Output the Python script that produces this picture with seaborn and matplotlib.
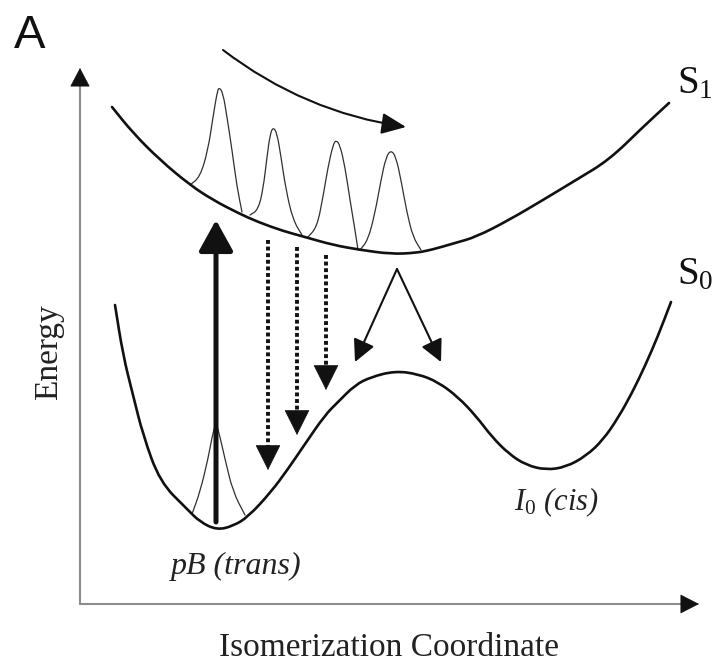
import numpy as np
import pandas as pd
import matplotlib
matplotlib.use('Agg')
import matplotlib.pyplot as plt
from matplotlib.path import Path
from matplotlib.patches import PathPatch
import seaborn as sns

sns.set_style('white')
plt.rcParams['font.family'] = ['Liberation Serif', 'DejaVu Serif']
plt.rcParams['mathtext.fontset'] = 'custom'
plt.rcParams['mathtext.rm'] = 'Liberation Serif'
plt.rcParams['mathtext.it'] = 'Liberation Serif:italic'

# potential curves (pixel units, y downwards)
s1_x = [112, 133, 160, 190, 213, 238, 258, 283, 305, 333, 361, 391, 415, 431, 455, 476, 509, 543, 576, 609, 643, 669]
s1_y = [107, 133, 160, 185, 200, 213, 222, 231, 237, 245, 250, 254, 253, 250, 243, 237, 220, 200, 180, 160, 127, 103]

s0_x = [115, 123, 133, 143, 160, 187, 200, 217, 233, 248, 271, 288, 305, 325, 338, 355, 371, 395, 418, 438,
        458, 476, 492, 509, 526, 546, 566, 586, 603, 618, 632, 645, 658, 671]
s0_y = [305, 355, 395, 435, 482, 509, 522, 530, 526, 517, 492, 469, 444, 415, 402, 385, 377, 371, 374, 382,
        397, 416, 437, 454, 465, 470, 467, 456, 440, 418, 393, 366, 336, 302]

# wavepackets on S1 and on S0
pk1_x = [190, 200, 208, 213, 217, 219, 223, 227, 232, 237, 242]
pk1_y = [185, 177, 150, 117, 93, 87, 93, 117, 150, 187, 212]
pk2_x = [250, 258, 263, 267, 270, 273, 277, 281, 286, 293, 302]
pk2_y = [215, 210, 190, 157, 135, 127, 133, 157, 190, 220, 235]
pk3_x = [308, 317, 323, 328, 333, 336, 340, 345, 350, 355, 358]
pk3_y = [237, 227, 197, 167, 145, 140, 145, 167, 200, 230, 250]
pk4_x = [360, 368, 375, 381, 386, 391, 396, 401, 407, 413, 421]
pk4_y = [250, 240, 213, 180, 157, 150, 157, 180, 213, 237, 250]
gs_x = [192, 200, 208, 212, 216, 220, 225, 233, 245]
gs_y = [514, 492, 459, 437, 422, 437, 459, 492, 515]

# arrows
excite_x = 216
excite_from, excite_to = 522, 220
emit_x = [268, 297, 326]
emit_top = [240, 247, 255]
emit_tip = [470, 435, 390]
branch_apex = (397, 269)
branch_tips = [(355, 362), (441, 362)]
motion_from, motion_to = (223, 50), (406, 127)

fig = plt.figure(figsize=(7.14, 6.64), dpi=100)
ax = fig.add_axes([0, 0, 1, 1])


def smooth_curve(xs, ys, lw, color):
    # read points used as quadratic bezier control points
    pts = np.column_stack([xs, ys]).astype(float)
    mids = (pts[:-1] + pts[1:]) / 2
    verts = [pts[0], mids[0]]
    codes = [Path.MOVETO, Path.LINETO]
    for i in range(1, len(pts) - 1):
        verts += [pts[i], mids[i]]
        codes += [Path.CURVE3, Path.CURVE3]
    verts.append(pts[-1])
    codes.append(Path.LINETO)
    ax.add_patch(PathPatch(Path(verts, codes), fill=False, lw=lw, edgecolor=color,
                           capstyle='round', joinstyle='round'))


for px, py in [(pk1_x, pk1_y), (pk2_x, pk2_y), (pk3_x, pk3_y), (pk4_x, pk4_y), (gs_x, gs_y)]:
    smooth_curve(px, py, 0.9, '#303030')
smooth_curve(s1_x, s1_y, 1.9, '#111111')
smooth_curve(s0_x, s0_y, 1.9, '#111111')


def head(tail, tip, hl, hw, lw=0.5):
    ax.annotate('', xy=tip, xytext=tail,
                arrowprops=dict(arrowstyle=f'-|>,head_length={hl},head_width={hw}',
                                mutation_scale=1, lw=lw, color='#111111',
                                shrinkA=0, shrinkB=0))


# axes of the diagram
frame = pd.DataFrame({'x': [80, 80, 80, 683], 'y': [84, 604, 604, 604], 'side': [0, 0, 1, 1]})
sns.lineplot(data=frame, x='x', y='y', units='side', estimator=None, sort=False,
             color='#8c8c8c', lw=1.5, ax=ax)
head((80, 86), (80, 68), 12.5, 6.6)
head((681, 604), (699, 604), 12.5, 6.4)

# vertical excitation
ax.annotate('', xy=(excite_x, excite_to), xytext=(excite_x, excite_from),
            arrowprops=dict(arrowstyle='-|>,head_length=19,head_width=10.5',
                            mutation_scale=1, lw=3.6, color='#111111',
                            shrinkA=0, shrinkB=0))

# dotted emission arrows
shafts = pd.DataFrame({
    'x': [x for x in emit_x for _ in range(2)],
    'y': [v for top, tip in zip(emit_top, emit_tip) for v in (top, tip - 22)],
    'arrow': [i for i in range(len(emit_x)) for _ in range(2)],
})
sns.lineplot(data=shafts, x='x', y='y', units='arrow', estimator=None, sort=False,
             color='#111111', lw=2.8, linestyle=(0, (1, 0.7)), ax=ax)
for x, tip in zip(emit_x, emit_tip):
    head((x, tip - 24), (x, tip), 17, 8.5)

# branching arrows
for tip in branch_tips:
    ax.annotate('', xy=tip, xytext=branch_apex,
                arrowprops=dict(arrowstyle='-|>,head_length=13.5,head_width=6.8',
                                mutation_scale=1, lw=1.5, color='#111111',
                                shrinkA=0, shrinkB=0))

# wavepacket motion arrow
ax.annotate('', xy=motion_to, xytext=motion_from,
            arrowprops=dict(arrowstyle='-|>,head_length=15,head_width=6.5',
                            mutation_scale=1, lw=1.5, color='#111111',
                            connectionstyle='arc3,rad=0.13',
                            shrinkA=0, shrinkB=0))

# labels
ax.text(14, 48, 'A', fontsize=34, family=['Liberation Sans', 'DejaVu Sans'],
        ha='left', va='baseline', color='#111111')
ax.text(677, 93, r'S$_1$', fontsize=28, ha='left', va='baseline', color='#111111')
ax.text(677, 284, r'S$_0$', fontsize=28, ha='left', va='baseline', color='#111111')
ax.text(49, 352, 'Energy', fontsize=24, rotation=90, ha='center', va='center', color='#222222')
ax.text(389, 663, 'Isomerization Coordinate', fontsize=24, ha='center', va='bottom',
        color='#222222')
ax.text(236, 574, 'pB (trans)', fontsize=23, style='italic', ha='center', va='baseline',
        color='#222222')
ax.text(514, 510, r'$I_{\mathit{0}}$ (cis)', fontsize=22, style='italic', ha='left',
        va='baseline', color='#222222')

ax.set_xlim(0, 714)
ax.set_ylim(664, 0)
ax.set_xlabel('')
ax.set_ylabel('')
ax.axis('off')

fig.savefig('out.png', dpi=100)
